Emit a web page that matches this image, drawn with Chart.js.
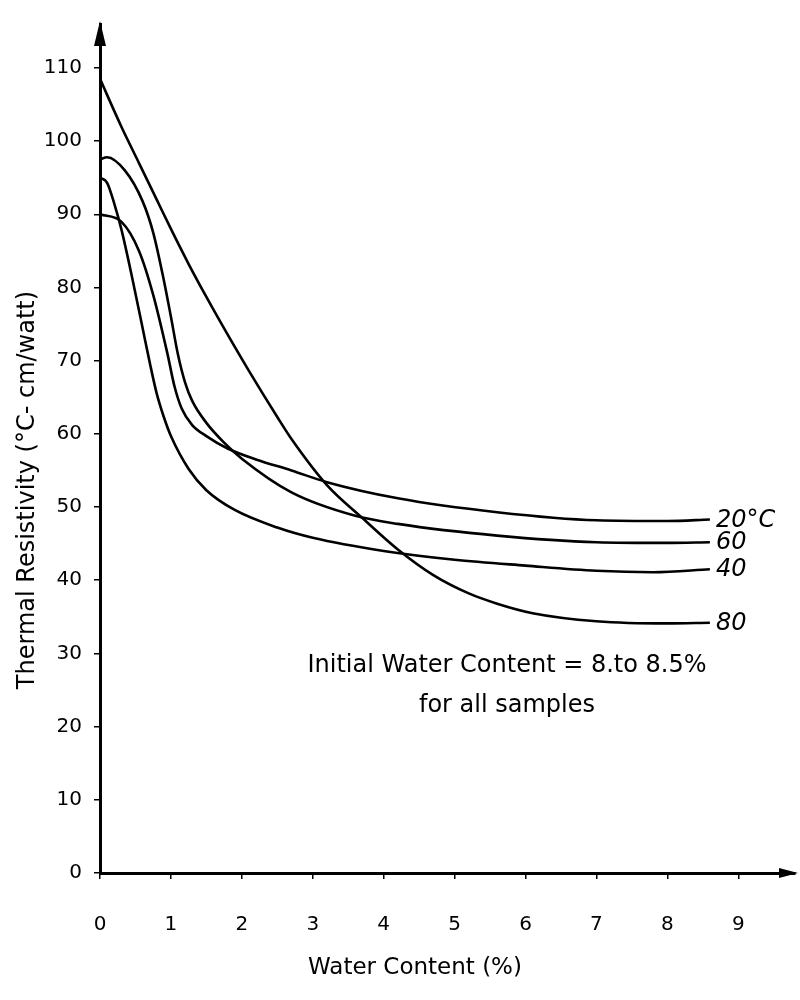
<!DOCTYPE html>
<html>
<head>
<meta charset="utf-8">
<script src="https://cdn.jsdelivr.net/npm/chart.js@4.4.0/dist/chart.umd.min.js"></script>
<style>
  body { margin: 0; background: #fff; }
  #wrap { width: 800px; height: 1000px; }
</style>
</head>
<body>
<div id="wrap"><canvas id="trChart"></canvas></div>
<script>
// Water content (%) vs thermal resistivity, one curve per test temperature
const x20 = [0, 0.3, 0.55, 0.75, 0.95, 1.05, 1.15, 1.3, 1.5, 1.8, 2.2, 2.7, 3.2, 4.2, 5.6, 7.0, 8.0, 8.6];
const y20 = [90, 89, 85, 79, 71, 66.5, 63.5, 61.2, 59.7, 58, 56.5, 55, 53.4, 51.2, 49.3, 48.2, 48.1, 48.3];

const x60 = [0, 0.1, 0.35, 0.6, 0.75, 0.9, 1.0, 1.1, 1.2, 1.3, 1.5, 1.75, 2.0, 2.7, 3.6, 4.2, 5.6, 7.0, 8.0, 8.6];
const y60 = [97.5, 97.8, 96, 91.8, 87.5, 81, 76, 70.8, 67, 64.5, 61.5, 58.8, 56.6, 52, 48.8, 47.7, 46.1, 45.2, 45.1, 45.2];

const x40 = [0, 0.1, 0.2, 0.3, 0.45, 0.6, 0.7, 0.8, 0.9, 1.0, 1.25, 1.5, 1.9, 2.5, 3.0, 4.0, 5.0, 6.0, 7.0, 7.8, 8.6];
const y40 = [95, 94.3, 91.5, 88, 81.5, 74.5, 69.8, 65.5, 62.3, 59.7, 55.2, 52.3, 49.6, 47.2, 45.8, 44, 42.8, 42, 41.3, 41.1, 41.5];

const x80 = [0, 0.3, 0.55, 0.8, 1.0, 1.25, 1.5, 1.75, 2.1, 2.5, 2.7, 3.2, 3.7, 4.2, 4.7, 5.2, 5.6, 6.1, 7.0, 8.0, 8.6];
const y80 = [108.5, 102, 97, 92, 88, 83.2, 78.7, 74.4, 68.6, 62.3, 59.3, 53, 48.5, 44.2, 40.7, 38.2, 36.8, 35.5, 34.4, 34.1, 34.2];

const curveLabels = ['20°C', '60', '40', '80'];
const xTicks = [0, 1, 2, 3, 4, 5, 6, 7, 8, 9];
const yTicks = [0, 10, 20, 30, 40, 50, 60, 70, 80, 90, 100, 110];

const toPoints = (xs, ys) => xs.map((x, i) => ({ x: x, y: ys[i] }));

const series = [
  toPoints(x20, y20),
  toPoints(x60, y60),
  toPoints(x40, y40),
  toPoints(x80, y80)
];

// arrows, curve labels, axis titles and the note
const extras = {
  id: 'extras',
  afterDraw(chart) {
    const ctx = chart.ctx;
    const a = chart.chartArea;
    const xs = chart.scales.x, ys = chart.scales.y;
    ctx.save();
    ctx.fillStyle = '#000';

    ctx.beginPath();
    ctx.moveTo(a.left, a.top - 3);
    ctx.lineTo(a.left - 6, a.top + 22);
    ctx.lineTo(a.left + 6, a.top + 22);
    ctx.closePath();
    ctx.fill();

    ctx.beginPath();
    ctx.moveTo(a.right + 3, a.bottom);
    ctx.lineTo(a.right - 16, a.bottom - 5);
    ctx.lineTo(a.right - 16, a.bottom + 5);
    ctx.closePath();
    ctx.fill();

    ctx.font = 'italic 24px "DejaVu Sans"';
    ctx.textAlign = 'left';
    ctx.textBaseline = 'middle';
    series.forEach((pts, i) => {
      const last = pts[pts.length - 1];
      ctx.fillText(curveLabels[i], xs.getPixelForValue(last.x) + 6, ys.getPixelForValue(last.y) + 1);
    });

    ctx.textAlign = 'center';
    ctx.font = '24px "DejaVu Sans"';
    ctx.fillText('Initial Water Content = 8.to 8.5%', 507, 666);
    ctx.fillText('for all samples', 507, 706);

    ctx.font = '23px "DejaVu Sans"';
    ctx.fillText('Water Content (%)', 415, 968);

    ctx.translate(28, 490);
    ctx.rotate(-Math.PI / 2);
    ctx.font = '24px "DejaVu Sans"';
    ctx.fillText('Thermal Resistivity (°C- cm/watt)', 0, 0);
    ctx.restore();
  }
};

new Chart(document.getElementById('trChart'), {
  type: 'line',
  data: {
    datasets: series.map((pts, i) => ({
      label: curveLabels[i],
      data: pts,
      borderColor: '#000',
      borderWidth: 2.6,
      pointRadius: 0,
      fill: false,
      cubicInterpolationMode: 'monotone'
    }))
  },
  options: {
    responsive: true,
    maintainAspectRatio: false,
    animation: false,
    layout: { padding: { top: 12, right: 5, left: 0, bottom: 0 } },
    plugins: { legend: { display: false }, tooltip: { enabled: false } },
    scales: {
      x: {
        type: 'linear',
        min: 0,
        max: 9.8,
        afterFit: (scale) => { scale.height = 127; },
        afterBuildTicks: (scale) => { scale.ticks = xTicks.map(v => ({ value: v })); },
        grid: { drawOnChartArea: false, drawTicks: true, tickLength: 6, color: '#000', lineWidth: 1.5 },
        border: { display: true, color: '#000', width: 3 },
        ticks: { color: '#000', font: { family: 'DejaVu Sans', size: 20 }, padding: 34, maxRotation: 0 }
      },
      y: {
        min: 0,
        max: 116,
        afterFit: (scale) => { scale.width = 100; },
        afterBuildTicks: (scale) => { scale.ticks = yTicks.map(v => ({ value: v })); },
        grid: { drawOnChartArea: false, drawTicks: true, tickLength: 6, color: '#000', lineWidth: 1.5 },
        border: { display: true, color: '#000', width: 3 },
        ticks: { color: '#000', font: { family: 'DejaVu Sans', size: 20 }, padding: 12 }
      }
    }
  },
  plugins: [extras]
});
</script>
</body>
</html>
